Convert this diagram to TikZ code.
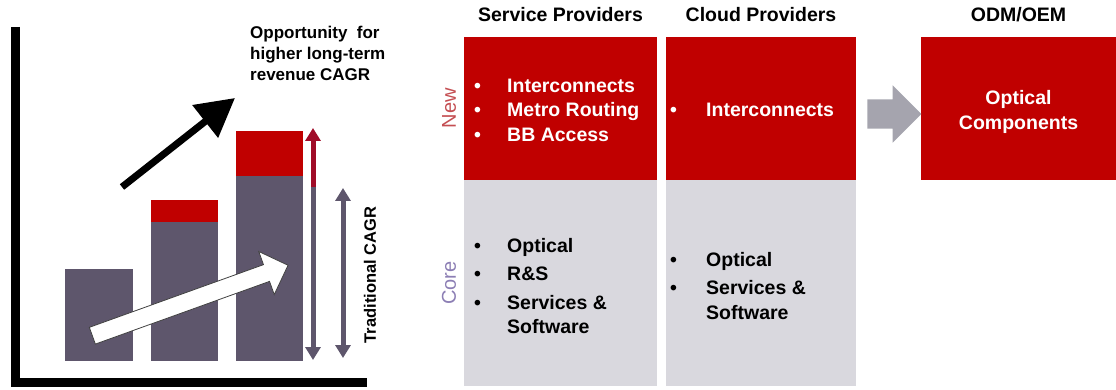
\documentclass[tikz,border=0pt]{standalone}
\usepackage{fontspec}
\setmainfont{Liberation Sans}
\usepackage{tikz}
\usetikzlibrary{shapes, arrows.meta, positioning, calc}

\definecolor{newred}{RGB}{192,0,0}
\definecolor{corebar}{RGB}{94,86,108}
\definecolor{coregray}{RGB}{217,216,222}
\definecolor{flowgray}{RGB}{165,164,174}
\definecolor{darkred}{RGB}{160,12,40}
\definecolor{newlabel}{RGB}{196,78,82}
\definecolor{corelabel}{RGB}{140,126,180}

\newcommand{\blt}[1]{\makebox[#1][l]{\textbullet}}

\begin{document}
\begin{tikzpicture}[x=1pt, y=-1pt, node distance=0pt,
	>={Triangle[width=15pt,length=13pt]},
	bar/.style={fill=corebar, inner sep=0pt, outer sep=0pt},
	topbar/.style={fill=newred, inner sep=0pt, outer sep=0pt},
	newbox/.style={fill=newred, inner sep=0pt, outer sep=0pt, text=white},
	corebox/.style={fill=coregray, inner sep=0pt, outer sep=0pt},
	head/.style={font=\fontsize{19.5}{23}\selectfont\bfseries},
	list/.style={inner sep=0pt, align=left, font=\fontsize{19.5}{24.5}\selectfont\bfseries},
	rowlabel/.style={rotate=90, font=\fontsize{20}{22}\selectfont}]
	\useasboundingbox (0,0) rectangle (1116,390);

	% axes
	\coordinate (top) at (15,27);
	\coordinate (origin) at (15,382);
	\coordinate (right) at (367,382);
	\draw[line width=9pt] (top) -- (origin) -- (right);

	% bars
	\node[bar, anchor=south west, minimum width=68, minimum height=92] (bar1) at (65,361) {};
	\node[bar, anchor=south west, minimum width=67, minimum height=139] (bar2) at (151,361) {};
	\node[topbar, above=of bar2, minimum width=67, minimum height=22] (cap2) {};
	\node[bar, anchor=south west, minimum width=67, minimum height=185] (bar3) at (236,361) {};
	\node[topbar, above=of bar3, minimum width=67, minimum height=45] (cap3) {};

	% growth arrows
	\node[single arrow, draw=black!75, fill=white, line width=0.8pt, inner xsep=0pt, inner ysep=8.5pt,
		minimum height=208, single arrow head extend=14pt, rotate=19.8] (trend) at (186,302) {};
	\coordinate (opp0) at (122,187);
	\coordinate (opp1) at (235,98);
	\draw[line width=7pt, -{Triangle[width=40pt,length=38pt]}] (opp0) -- (opp1);
	\node[anchor=north west, inner sep=0pt, align=left, font=\fontsize{17}{21}\selectfont\bfseries] (opptext) at (250,26)
		{Opportunity~ for\\higher long-term\\revenue CAGR};

	% cagr arrows
	\coordinate (hi0) at (313,360);
	\coordinate (hi1) at (313,185);
	\coordinate (hi2) at (313,128);
	\draw[line width=5pt, draw=corebar, ->] (hi1) -- (hi0);
	\draw[line width=5pt, draw=darkred, ->] ($(hi1)+(0,2)$) -- (hi2);
	\coordinate (lo0) at (343,358);
	\coordinate (lo1) at (343,188);
	\draw[line width=5pt, draw=corebar, <->] (lo0) -- (lo1);
	\node[rotate=90, font=\fontsize{16.5}{18}\selectfont\bfseries] (trad) at (370,275) {Traditional CAGR};

	% market table
	\node[newbox, anchor=north west, minimum width=193, minimum height=143] (spnew) at (464,37) {};
	\node[corebox, below=of spnew, minimum width=193, minimum height=206] (spcore) {};
	\node[newbox, anchor=north west, minimum width=190, minimum height=143] (cpnew) at (666,37) {};
	\node[corebox, below=of cpnew, minimum width=190, minimum height=206] (cpcore) {};
	\node[newbox, anchor=north west, minimum width=195, minimum height=143] (odm) at (921,37) {};
	\node[align=center, text=white, font=\fontsize{19.5}{25}\selectfont\bfseries] (odmtext)
		at ($(odm.center)+(0,3)$) {Optical\\Components};

	\node[head] (sphead) at (spnew.north |- 0,15) {Service Providers};
	\node[head] (cphead) at (cpnew.north |- 0,15) {Cloud Providers};
	\node[head] (odmhead) at (odm.north |- 0,15) {ODM/OEM};

	\node[rowlabel, text=newlabel] (newlab) at (449,108) {New};
	\node[rowlabel, text=corelabel] (corelab) at (449,283) {Core};

	\node[list, text=white, anchor=west] (splist) at (474,110)
		{\blt{33pt}Interconnects\\\blt{33pt}Metro Routing\\\blt{33pt}BB Access};
	\node[list, anchor=west] (spcorelist) at (474,286)
		{\blt{33pt}Optical\\[4pt]\blt{33pt}R\&S\\[4pt]\blt{33pt}Services \&\\\hspace*{33pt}Software};
	\node[list, text=white, anchor=west] (cplist) at (670,110) {\blt{36pt}Interconnects};
	\node[list, anchor=west] (cpcorelist) at (670,286)
		{\blt{36pt}Optical\\[4pt]\blt{36pt}Services \&\\\hspace*{36pt}Software};

	% flow to odm
	\node[single arrow, fill=flowgray, inner xsep=0pt, inner ysep=14.5pt, minimum height=54,
		single arrow head extend=14pt] (flow) at (887,114) {};
\end{tikzpicture}
\end{document}
